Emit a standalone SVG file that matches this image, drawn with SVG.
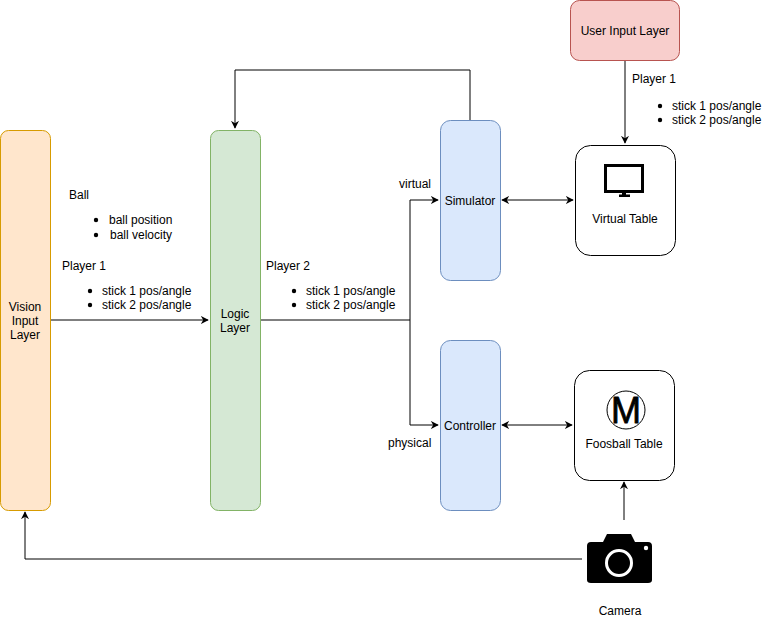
<svg xmlns="http://www.w3.org/2000/svg" width="771" height="620" viewBox="0 0 771 620">
<defs>
<marker id="arr" viewBox="0 0 10 10" refX="9" refY="5" markerWidth="8" markerHeight="8" orient="auto-start-reverse" markerUnits="userSpaceOnUse">
<path d="M0,0 L10,5 L0,10 L3,5 Z" fill="#000"/>
</marker>
</defs>
<style>
text{font-family:"Liberation Sans",Arial,Helvetica,sans-serif;font-size:12px;fill:#000}
.c{text-anchor:middle}
.ln{fill:none;stroke:#000;stroke-width:1}
</style>
<rect width="771" height="620" fill="#fff"/>
<g id="connectors">
<path class="ln" d="M50,320 H208" marker-end="url(#arr)"/>
<path class="ln" d="M260,320 H410 V200 H438" marker-end="url(#arr)"/>
<path class="ln" d="M410,320 V425 H438" marker-end="url(#arr)"/>
<path class="ln" d="M470,120 V70 H235 V128" marker-end="url(#arr)"/>
<path class="ln" d="M502,200 H573" marker-start="url(#arr)" marker-end="url(#arr)"/>
<path class="ln" d="M502,425 H572" marker-start="url(#arr)" marker-end="url(#arr)"/>
<path class="ln" d="M625,60 V143" marker-end="url(#arr)"/>
<path class="ln" d="M624,520 V482" marker-end="url(#arr)"/>
<path class="ln" d="M582,559 H25 V512" marker-end="url(#arr)"/>
</g>
<g id="vision">
<rect x="0.5" y="130.5" width="50" height="380" rx="8" fill="#ffe6cc" stroke="#d79b00"/>
<text class="c" x="25" y="311">Vision</text>
<text class="c" x="25" y="325">Input</text>
<text class="c" x="25" y="339">Layer</text>
</g>
<g id="logic">
<rect x="210.5" y="130.5" width="50" height="380" rx="8" fill="#d5e8d4" stroke="#82b366"/>
<text class="c" x="235" y="318">Logic</text>
<text class="c" x="235" y="332">Layer</text>
</g>
<g id="simulator">
<rect x="440.5" y="120.5" width="60" height="160" rx="10" fill="#dae8fc" stroke="#6c8ebf"/>
<text class="c" x="470" y="205">Simulator</text>
</g>
<g id="controller">
<rect x="440.5" y="340.5" width="60" height="170" rx="10" fill="#dae8fc" stroke="#6c8ebf"/>
<text class="c" x="470" y="430">Controller</text>
</g>
<g id="userinput">
<rect x="570.5" y="0.5" width="109" height="60" rx="9" fill="#f8cecc" stroke="#b85450"/>
<text class="c" x="625" y="35">User Input Layer</text>
</g>
<g id="virtualtable">
<rect x="575.5" y="145.5" width="100" height="110" rx="15" fill="#fff" stroke="#000"/>
<rect x="605.5" y="165.5" width="37" height="26" fill="none" stroke="#000" stroke-width="3"/>
<rect x="622" y="191" width="4" height="4" fill="#000"/>
<rect x="619" y="194.5" width="11" height="2.5" fill="#000"/>
<text class="c" x="625" y="223">Virtual Table</text>
</g>
<g id="foosball">
<rect x="574.5" y="370.5" width="100" height="110" rx="15" fill="#fff" stroke="#000"/>
<circle cx="626" cy="410" r="19" fill="#fff" stroke="#000"/>
<text class="c" x="626" y="423" style="font-size:36px;stroke:#000;stroke-width:0.8;stroke-linejoin:round">M</text>
<text class="c" x="624" y="448">Foosball Table</text>
</g>
<g id="camera">
<path d="M603,542 L607,534 H631 L635,542 H648 Q652,542 652,546 V580 Q652,583 648,583 H591 Q587,583 587,580 V546 Q587,542 591,542 Z" fill="#000"/>
<circle cx="619" cy="563" r="12.5" fill="none" stroke="#fff" stroke-width="3"/>
<circle cx="646" cy="548" r="2.2" fill="#fff"/>
<text class="c" x="620" y="615">Camera</text>
</g>
<g id="labels">
<text x="69" y="199">Ball</text>
<circle cx="96" cy="220" r="2.2" fill="#000"/>
<text x="109" y="224">ball position</text>
<circle cx="96" cy="235" r="2.2" fill="#000"/>
<text x="110" y="239">ball velocity</text>
<text x="62" y="270">Player 1</text>
<circle cx="90" cy="291" r="2.2" fill="#000"/>
<text x="102" y="295">stick 1 pos/angle</text>
<circle cx="90" cy="305" r="2.2" fill="#000"/>
<text x="102" y="309">stick 2 pos/angle</text>
<text x="266" y="270">Player 2</text>
<circle cx="294" cy="291" r="2.2" fill="#000"/>
<text x="306" y="295">stick 1 pos/angle</text>
<circle cx="294" cy="305" r="2.2" fill="#000"/>
<text x="306" y="309">stick 2 pos/angle</text>
<text x="399" y="188">virtual</text>
<text x="388" y="447">physical</text>
<text x="632" y="83">Player 1</text>
<circle cx="660" cy="106" r="2.2" fill="#000"/>
<text x="672" y="110">stick 1 pos/angle</text>
<circle cx="660" cy="120" r="2.2" fill="#000"/>
<text x="672" y="124">stick 2 pos/angle</text>
</g>
</svg>
